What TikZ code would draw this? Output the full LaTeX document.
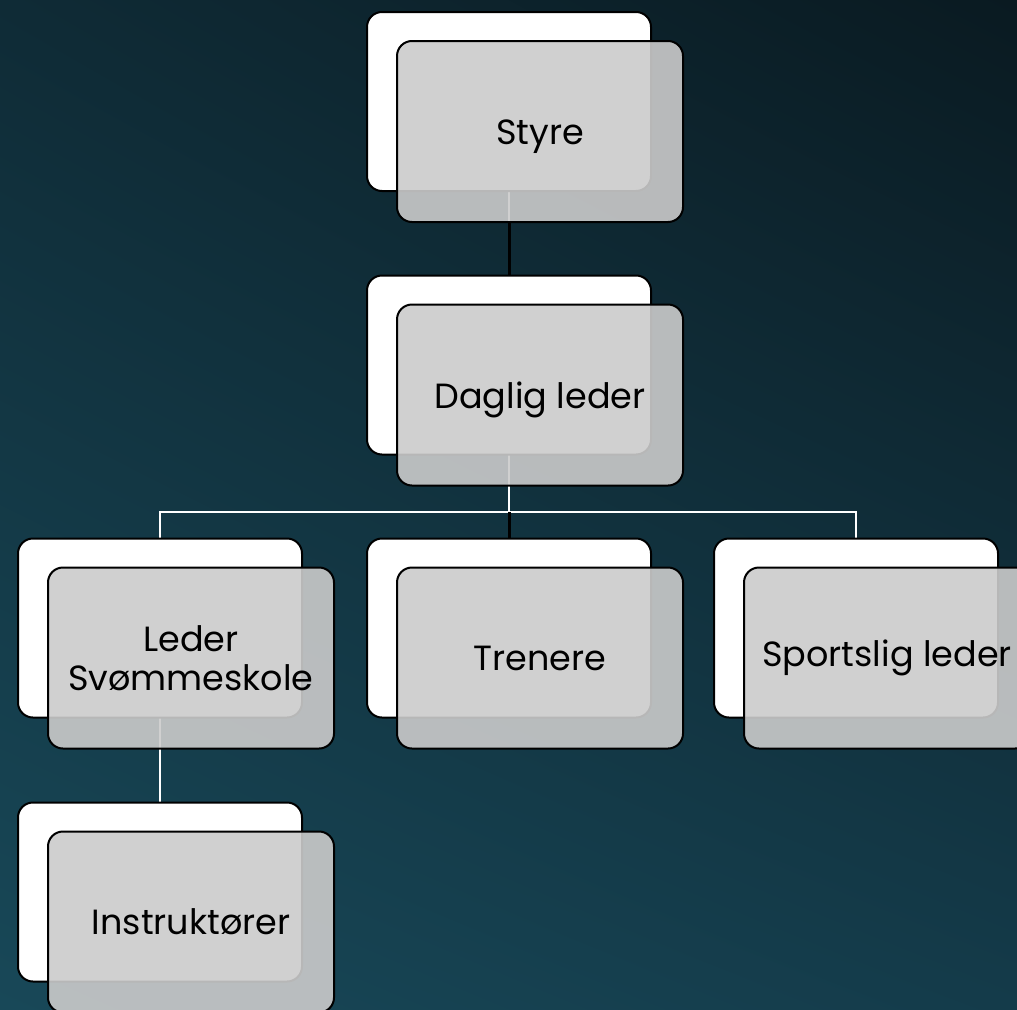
\documentclass[tikz,border=0pt]{standalone}
\usepackage{fontspec}
\setmainfont{Poppins}
\usetikzlibrary{positioning,shadings}

\definecolor{bgtl}{HTML}{0F2B36}
\definecolor{bgtr}{HTML}{0A1A21}
\definecolor{bgbl}{HTML}{184858}
\definecolor{bgbr}{HTML}{143B4A}
\definecolor{boxgray}{HTML}{CBCBCB}

\newcommand{\lowtext}[1]{\raisebox{-5pt}[\height][\depth]{#1}}

\begin{document}
\begin{tikzpicture}[x=1pt, y=-1pt,
    back/.style = {draw, line width=2pt, fill=white, rounded corners=15pt,
                   minimum width=284pt, minimum height=179pt, inner sep=0pt},
    front/.style = {draw, line width=2pt, fill=boxgray, fill opacity=0.9, text opacity=1,
                    rounded corners=15pt, minimum width=286pt, minimum height=181pt,
                    inner sep=0pt, align=center, font=\fontsize{35}{39}\selectfont,
                    xshift=31pt, yshift=-30pt},
    wline/.style = {draw=white, line width=2pt},
    bline/.style = {draw=black, line width=3pt}]
    \useasboundingbox (0,0) rectangle (1017,1009);
    \shade[upper left=bgtl, upper right=bgtr, lower left=bgbl, lower right=bgbr]
        (0,0) rectangle (1017,1009);

    \coordinate (bar) at (509,512);

    % connectors, behind the boxes
    \draw[wline] (509,101) -- (509,222);
    \draw[bline] (509,222) -- (509,275);
    \draw[wline] (509,365) -- (509,512) -| (160,628);
    \draw[wline] (bar) -| (856,628);
    \draw[bline] (bar) -- (509,538);
    \draw[wline] (160,628) -- (160,892);

    \node[back] (styre) at (509,101.5) {};
    \node[front] (styreF) at (styre) {\lowtext{Styre}};

    \node[back] (daglig) at (509,365) {};
    \node[front] (dagligF) at (daglig) {\lowtext{Daglig leder}};

    \node[back] (leder) at (160,628) {};
    \node[front] (lederF) at (leder) {Leder\\Svømmeskole};

    \node[back] (trenere) at (509,628) {};
    \node[front] (trenereF) at (trenere) {Trenere};

    \node[back] (sport) at (856,628) {};
    \node[front] (sportF) at (sport) {Sportslig leder};

    \node[back] (instr) at (160,892) {};
    \node[front] (instrF) at (instr) {Instruktører};
\end{tikzpicture}
\end{document}
